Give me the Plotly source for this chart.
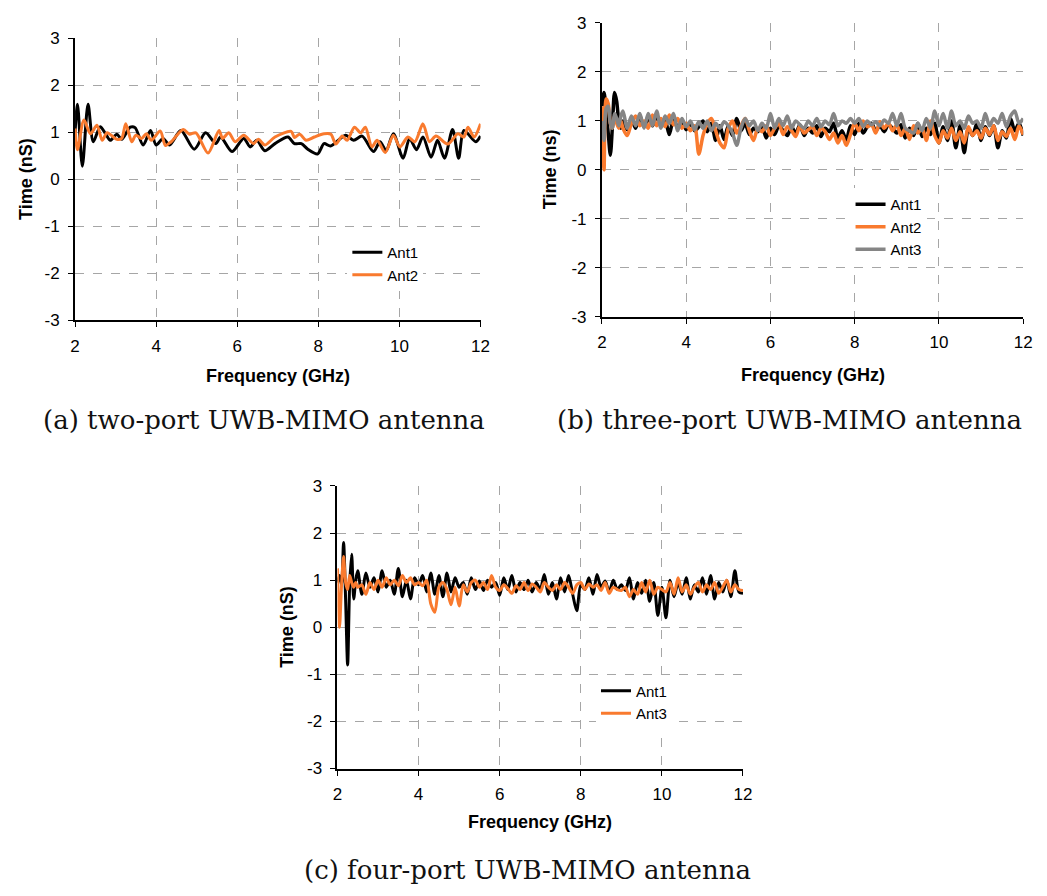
import plotly.graph_objects as go

# ---------------- data ----------------
# (a) two-port antenna: turning points of the group-delay curves
A_ANT1_F = [2.0, 2.06, 2.18, 2.32, 2.45, 2.62, 2.75, 2.87, 3.03, 3.15, 3.36, 3.48, 3.68, 3.86, 4.0,
            4.17, 4.33, 4.61, 4.94, 5.22, 5.47, 5.59, 5.87, 6.16, 6.32, 6.48, 6.68, 6.93, 7.25, 7.41,
            7.58, 7.74, 7.98, 8.14, 8.3, 8.67, 8.87, 9.08, 9.36, 9.52, 9.67, 9.85, 10.09, 10.25, 10.42,
            10.58, 10.78, 10.94, 11.11, 11.31, 11.46, 11.59, 11.88, 12.0]
A_ANT1_T = [1.0, 1.6, 0.28, 1.6, 0.8, 1.12, 0.97, 0.83, 0.96, 0.85, 1.11, 1.1, 0.73, 1.04, 0.73,
            0.87, 0.73, 1.04, 0.64, 0.99, 0.76, 0.9, 0.59, 0.87, 0.69, 0.83, 0.61, 0.76, 0.9, 0.76,
            0.76, 0.64, 0.54, 0.76, 0.71, 0.94, 0.83, 0.92, 0.59, 0.8, 0.61, 0.97, 0.45, 0.87, 0.63,
            0.9, 0.47, 0.83, 0.45, 1.06, 0.45, 1.04, 0.8, 0.92]

A_ANT2_F = [2.0, 2.06, 2.22, 2.38, 2.54, 2.67, 2.79, 3.03, 3.15, 3.25, 3.4, 3.5, 3.64, 3.76, 3.88,
            4.1, 4.23, 4.37, 4.67, 4.82, 4.98, 5.28, 5.55, 5.64, 5.79, 5.95, 6.16, 6.4, 6.52, 6.68,
            6.93, 7.33, 7.41, 7.54, 7.7, 7.9, 8.14, 8.31, 8.43, 8.59, 8.71, 8.89, 9.04, 9.16, 9.32,
            9.45, 9.65, 9.85, 10.01, 10.21, 10.38, 10.58, 10.74, 10.9, 11.19, 11.44, 11.59, 11.69,
            11.84, 12.0]
A_ANT2_T = [1.08, 0.63, 1.26, 0.97, 1.15, 0.83, 0.99, 0.85, 0.87, 1.18, 0.8, 0.94, 0.87, 0.97, 0.83,
            1.03, 0.72, 0.8, 1.06, 0.96, 0.99, 0.56, 1.04, 0.87, 0.99, 0.8, 0.94, 0.76, 0.85, 0.73,
            0.9, 1.02, 0.89, 0.96, 0.83, 0.9, 0.97, 0.96, 0.75, 0.92, 0.83, 1.11, 0.99, 1.11, 0.69,
            0.83, 0.57, 0.94, 0.69, 0.9, 0.8, 1.18, 0.8, 0.92, 0.75, 0.97, 0.9, 1.11,
            0.9, 1.18]

# (b), (c): sampled every 0.05 GHz up to 2.45 GHz, then every 0.1 GHz
FREQ = [2.0, 2.05, 2.1, 2.15, 2.2, 2.25, 2.3, 2.35, 2.4, 2.45] + [round(2.5 + 0.1 * i, 1) for i in range(96)]

B_ANT1 = [1.3, 1.58, 1.2, 0.75, 0.3, 0.9, 1.58, 1.4, 1.0, 0.85,
          1.0, 0.82, 1.05, 0.85, 1.1,
          0.88, 1.05, 0.9, 1.1, 0.95, 1.0, 0.72, 1.05, 0.85, 1.0,
          0.82, 0.95, 0.8, 0.88, 1.0, 0.78, 0.95, 0.6, 0.9, 0.62,
          0.9, 0.7, 1.05, 0.8, 0.95, 0.72, 0.85, 0.78, 0.9, 0.65,
          0.85, 0.72, 0.9, 0.8, 0.7, 0.88, 0.75, 0.92, 0.7, 0.85,
          0.75, 0.9, 0.68, 0.85, 0.78, 0.95, 0.65, 0.8, 0.6, 0.9,
          0.72, 0.95, 0.75, 0.88, 0.95, 0.8, 0.9, 0.78, 0.92, 0.85,
          0.75, 0.92, 0.65, 0.85, 0.7, 0.95, 0.68, 0.85, 0.72, 0.95,
          0.55, 0.88, 0.6, 1.0, 0.45, 0.9, 0.35, 0.85, 0.7, 0.95,
          0.6, 0.88, 0.7, 0.9, 0.45, 0.8, 0.65, 1.05, 0.8, 0.95,
          0.7]
B_ANT2 = [1.3, 0.0, 1.45, 1.35, 0.95, 0.85, 1.1, 0.95, 0.85, 1.0,
          0.85, 0.7, 0.95, 1.1, 0.9,
          1.0, 0.85, 1.12, 0.9, 1.05, 0.88, 1.12, 0.92, 1.05, 0.85,
          0.95, 0.8, 0.9, 0.32, 0.7, 0.95, 1.05, 0.8, 0.55, 0.45,
          0.85, 1.0, 0.75, 0.9, 1.05, 0.8, 0.6, 0.85, 0.78, 0.9,
          0.7, 0.85, 0.95, 0.72, 0.88, 0.8, 0.68, 0.9, 0.75, 0.82,
          0.88, 0.7, 0.85, 0.78, 0.62, 0.75, 0.55, 0.7, 0.5, 0.72,
          0.95, 0.8, 1.0, 0.88, 0.92, 0.75, 0.98, 0.85, 0.95, 0.8,
          0.92, 0.7, 0.85, 0.62, 0.9, 0.75, 0.85, 0.6, 1.0, 0.7,
          0.55, 0.8, 0.65, 0.85, 0.6, 0.78, 0.55, 0.88, 0.7, 0.8,
          0.65, 0.85, 0.72, 0.9, 0.6, 0.78, 0.68, 0.85, 0.62, 0.9,
          0.72]
B_ANT3 = [1.0, 0.6, 1.25, 1.3, 0.95, 0.85, 1.15, 1.05, 0.9, 1.1,
          1.2, 0.85, 1.1, 0.9, 1.15,
          0.85, 1.15, 0.9, 1.2, 0.85, 1.1, 0.95, 1.15, 0.8, 1.05,
          0.88, 1.0, 0.82, 0.98, 0.85, 1.0, 0.8, 0.95, 0.85, 0.98,
          0.9, 0.75, 0.5, 0.85, 1.05, 0.9, 1.0, 0.8, 0.95, 0.85,
          1.15, 0.85, 1.05, 0.9, 1.1, 0.85, 1.0, 0.92, 0.85, 1.0,
          0.9, 1.05, 0.88, 1.0, 0.92, 1.15, 0.9, 1.0, 0.95, 1.05,
          0.95, 1.05, 0.88, 1.0, 0.92, 0.98, 0.9, 1.02, 0.95, 1.15,
          0.9, 1.15, 0.85, 0.8, 0.75, 0.95, 0.8, 1.05, 0.85, 1.2,
          0.9, 1.15, 0.85, 1.2, 0.9, 1.0, 0.85, 1.1, 0.95, 1.0,
          0.85, 1.15, 0.9, 1.05, 0.95, 1.15, 0.88, 1.1, 1.2, 0.95,
          1.05]

C_ANT1 = [0.95, 1.1, 0.9, 1.8, 0.6, -0.8, 0.9, 1.55, 0.6, 1.0,
          1.2, 0.7, 1.15, 0.85, 1.05,
          0.75, 1.2, 0.85, 1.0, 0.7, 1.25, 0.65, 1.0, 0.6, 1.05,
          0.9, 1.1, 0.75, 1.15, 0.7, 1.1, 0.65, 1.15, 0.75, 1.05,
          0.85, 0.95, 0.7, 1.05, 0.8, 0.98, 0.78, 1.0, 0.85, 0.95,
          0.68, 1.05, 0.8, 1.1, 0.75, 0.95, 0.8, 1.0, 0.75, 0.95,
          0.8, 1.12, 0.7, 0.95, 0.6, 1.05, 0.75, 1.1, 0.7, 0.35,
          0.9, 0.8, 1.05, 0.7, 1.12, 0.85, 0.98, 0.75, 1.0, 0.8,
          0.9, 0.78, 1.05, 0.6, 0.95, 0.72, 1.0, 0.55, 0.95, 0.25,
          0.85, 0.2, 1.0, 0.65, 0.95, 0.7, 1.05, 0.6, 0.9, 0.75,
          1.05, 0.7, 1.1, 0.6, 0.95, 0.75, 1.0, 0.65, 1.2, 0.75,
          0.72]
C_ANT3 = [1.25, 0.0, 0.9, 1.5, 0.95, 0.8, 1.1, 0.95, 0.85, 0.95,
          0.85, 0.9, 0.7, 0.95, 0.8,
          1.0, 0.85, 1.05, 0.9, 1.0, 0.88, 1.1, 0.95, 1.05, 0.9,
          0.95, 0.88, 1.0, 0.5, 0.32, 0.85, 0.95, 0.8, 0.48, 0.85,
          0.45, 0.9, 0.75, 0.95, 1.0, 0.85, 0.95, 0.8, 1.1, 0.85,
          0.78, 0.9, 0.82, 0.72, 0.88, 0.8, 0.95, 0.78, 0.92, 0.85,
          0.75, 0.95, 0.85, 0.78, 0.9, 0.8, 0.95, 0.85, 0.72, 0.9,
          0.95, 0.8, 0.92, 0.85, 0.9, 0.78, 0.95, 0.72, 0.85, 0.8,
          0.78, 0.85, 0.65, 0.8, 0.7, 0.95, 0.75, 1.0, 0.7, 0.85,
          0.8, 0.75, 0.95, 0.7, 1.05, 0.75, 0.9, 0.7, 0.85, 0.95,
          0.75, 0.9, 0.8, 0.95, 0.72, 0.85, 1.0, 0.75, 0.9, 0.8,
          0.78]

X_TICKS = [2, 4, 6, 8, 10, 12]
Y_TICKS = [-3, -2, -1, 0, 1, 2, 3]
Y_TICK_TEXT = ["-3", "-2", "-1", "0", "1", "2", "3"]
CAPTIONS = ["(a) two-port UWB-MIMO antenna",
            "(b) three-port UWB-MIMO antenna",
            "(c) four-port UWB-MIMO antenna"]
Y_TITLES = ["Time (nS)", "Time (ns)", "Time (nS)"]
X_TITLE = "Frequency (GHz)"

# ---------------- styling ----------------
W, H = 1047, 896
BLACK, ORANGE, GRAY = "#000000", "#F97A2E", "#858585"
SANS = "Liberation Sans, Arial, sans-serif"
SERIF = "DejaVu Serif, serif"


def px_x(p):
    """pixel column -> paper x"""
    return p / W


def px_y(p):
    """pixel row -> paper y"""
    return 1 - p / H


# plot rectangles in pixels: left, right, top, bottom
PANELS = [(71, 482, 30, 318), (605, 1032, 14.3, 314.3), (337, 748, 487.3, 776)]

fig = go.Figure()


def add(x, y, name, color, axis, legend, width=3):
    fig.add_trace(go.Scatter(
        x=x, y=y, name=name, mode="lines",
        line=dict(color=color, width=width, shape="spline", smoothing=0.8),
        xaxis="x" + axis, yaxis="y" + axis, legend=legend))


add(A_ANT1_F, A_ANT1_T, "Ant1", BLACK, "", "legend")
add(A_ANT2_F, A_ANT2_T, "Ant2", ORANGE, "", "legend")
add(FREQ, B_ANT1, "Ant1", BLACK, "2", "legend2", 3.5)
add(FREQ, B_ANT2, "Ant2", ORANGE, "2", "legend2", 3.5)
add(FREQ, B_ANT3, "Ant3", GRAY, "2", "legend2", 3.5)
add(FREQ, C_ANT1, "Ant1", BLACK, "3", "legend3")
add(FREQ, C_ANT3, "Ant3", ORANGE, "3", "legend3")

axis_common = dict(
    showline=True, linecolor="black", linewidth=2, mirror=False,
    ticks="outside", ticklen=5, tickwidth=1, tickcolor="black",
    showgrid=True, gridcolor="#A6A6A6", gridwidth=1, griddash="dash",
    zeroline=False, tickfont=dict(family=SANS, size=17, color="black"),
)

layout = dict(
    width=W, height=H, margin=dict(l=0, r=0, t=0, b=0),
    paper_bgcolor="white", plot_bgcolor="white", showlegend=True,
)
annotations = []
for i, (l, r, t, b) in enumerate(PANELS):
    sx = "" if i == 0 else str(i + 1)
    layout["xaxis" + sx] = dict(axis_common, domain=[px_x(l), px_x(r)], range=[2, 12],
                                tickvals=X_TICKS, anchor="y" + sx, ticklabelstandoff=4)
    layout["yaxis" + sx] = dict(axis_common, domain=[px_y(b), px_y(t)], range=[-3, 3],
                                tickvals=Y_TICKS, ticktext=Y_TICK_TEXT, anchor="x" + sx,
                                ticklabelstandoff=5)

# axis titles
TITLE_POS = [((276.5, 375), (22, 174)), ((818.5, 374), (552, 164)), ((542.5, 831), (285, 631))]
for i, ((xx, xy), (yx, yy)) in enumerate(TITLE_POS):
    annotations.append(dict(x=px_x(xx), y=px_y(xy), xref="paper", yref="paper",
                            text="<b>" + X_TITLE + "</b>", showarrow=False,
                            font=dict(family=SANS, size=18, color="black"),
                            xanchor="center", yanchor="middle"))
    annotations.append(dict(x=px_x(yx), y=px_y(yy), xref="paper", yref="paper",
                            text="<b>" + Y_TITLES[i] + "</b>", textangle=-90, showarrow=False,
                            font=dict(family=SANS, size=18, color="black"),
                            xanchor="center", yanchor="middle"))

# captions
CAP_POS = [(263, 420), (795, 420), (530, 880)]
for (cx, cy), txt in zip(CAP_POS, CAPTIONS):
    annotations.append(dict(x=px_x(cx), y=px_y(cy), xref="paper", yref="paper", text=txt,
                            showarrow=False, font=dict(family=SERIF, size=26, color="#111111"),
                            xanchor="center", yanchor="middle"))
layout["annotations"] = annotations

legend_common = dict(bgcolor="white", borderwidth=0, font=dict(family=SANS, size=15, color="black"),
                     xanchor="left", yanchor="top", tracegroupgap=0, itemwidth=30)
layout["legend"] = dict(legend_common, x=px_x(347), y=px_y(232))
layout["legend2"] = dict(legend_common, x=px_x(857), y=px_y(183))
layout["legend3"] = dict(legend_common, x=px_x(599), y=px_y(680))

fig.update_layout(**layout)
fig.write_html("out.html")
